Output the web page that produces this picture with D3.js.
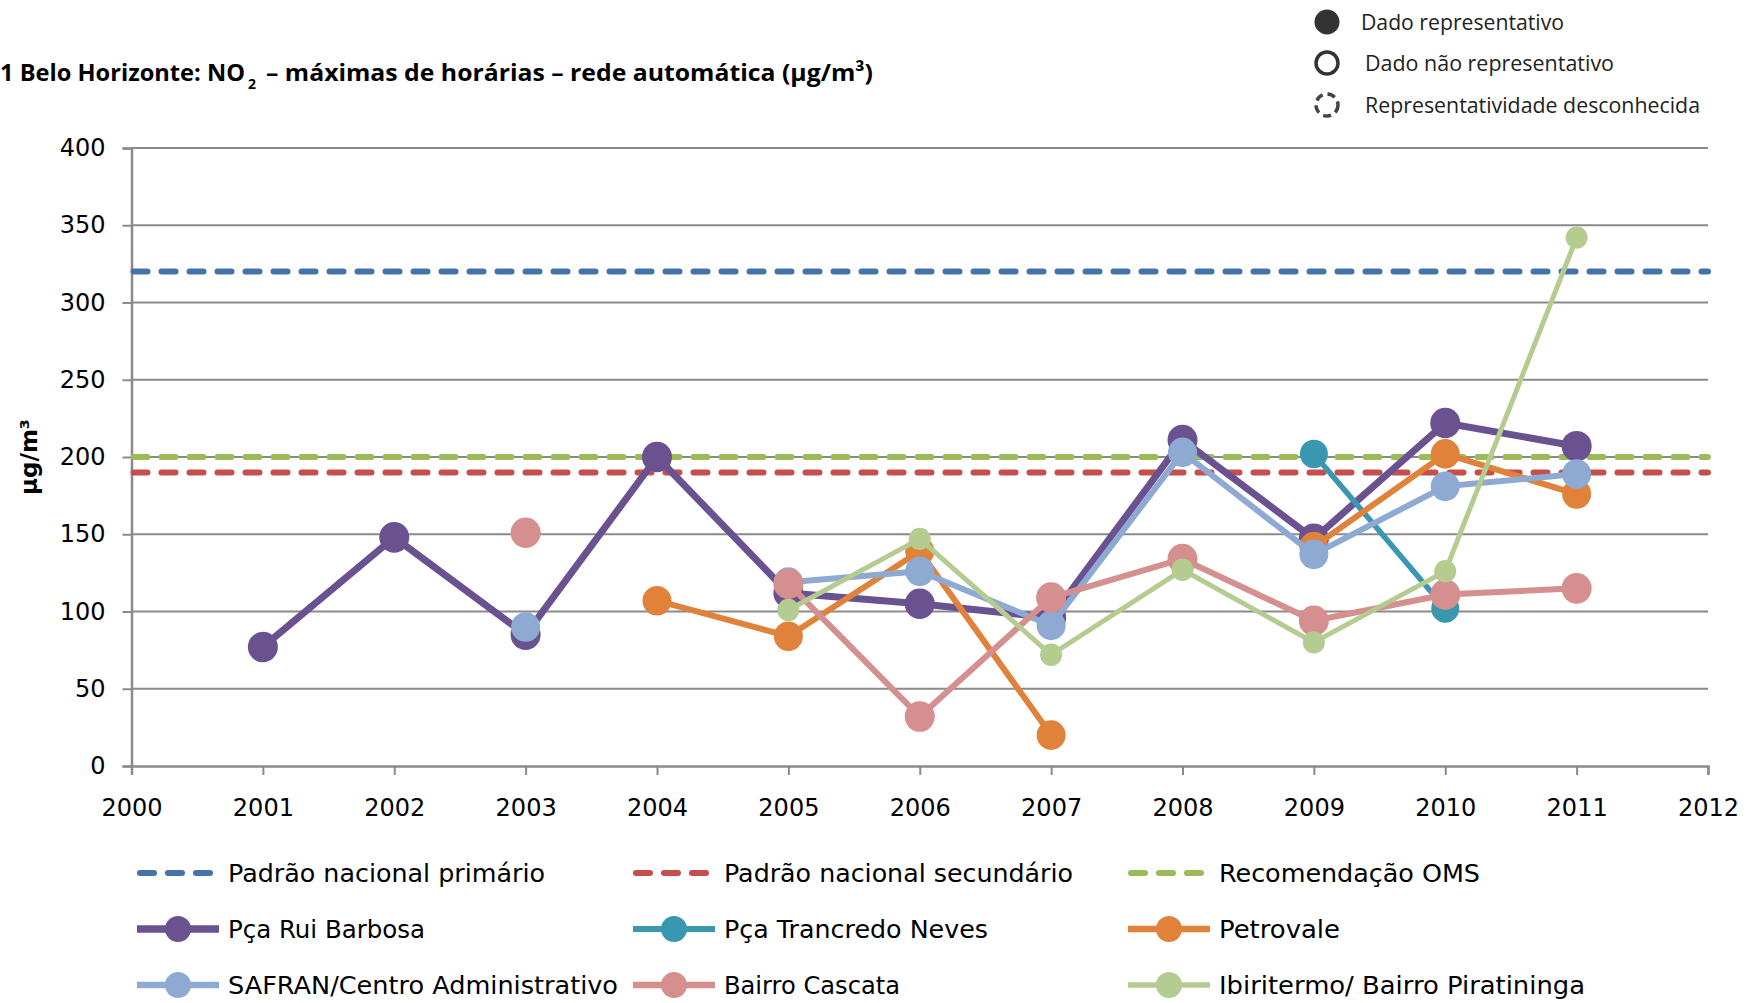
<!DOCTYPE html>
<html><head><meta charset="utf-8">
<script src="https://cdn.jsdelivr.net/npm/d3@7"></script>
<style>html,body{margin:0;padding:0;background:#fff;overflow:hidden}</style>
</head><body>
<svg id="c" width="1762" height="1003"></svg>
<script>
// ---- data ----
const years = [2001,2002,2003,2004,2005,2006,2007,2008,2009,2010,2011];
const ruiBarbosa  = [77,148,85,200,112,105,96,211,147,222,207];
const tancredo    = [null,null,null,null,null,null,null,null,202,102,null];
const petrovale   = [null,null,null,107,84,139,20,null,142,202,176];
const safran      = [null,null,90,null,119,126,91,203,137,181,189];
const cascata     = [null,null,151,null,118,32,109,134,94,111,115];
const ibiritermo  = [null,null,null,null,101,147,72,127,80,126,342];
const refNames  = ["Padrão nacional  primário","Padrão nacional  secundário","Recomendação OMS"];
const refValues = [320,190,200];
const seriesNames = ["Pça Rui Barbosa","Pça Trancredo Neves","Petrovale","SAFRAN/Centro Administrativo","Bairro Cascata","Ibiritermo/ Bairro Piratininga"];
const yTicks = [0,50,100,150,200,250,300,350,400];
const xTicks = [2000,2001,2002,2003,2004,2005,2006,2007,2008,2009,2010,2011,2012];
const statusLabels = ["Dado representativo","Dado não representativo","Representatividade desconhecida"];

// ---- styles ----
const refColors = ["#4472ab","#c4504e","#9bbb59"];
const seriesVals = [ruiBarbosa,tancredo,petrovale,safran,cascata,ibiritermo];
const seriesColors = ["#6a5291","#3a97b0","#e0823a","#8eaad3","#d48f8e","#b4cc90"];
const seriesWidth = [7,5.5,6,6,6,5];
const seriesR = [15,14,14.5,14.5,15,11];

const svg = d3.select("#c");
const x = d3.scaleLinear().domain([2000,2012]).range([131.5,1708]);
const y = d3.scaleLinear().domain([0,400]).range([766,148]);
const grid = "#8a8a8a";

// gridlines
svg.append("g").selectAll("line").data(yTicks.filter(d=>d>0)).join("line")
  .attr("x1",x(2000)).attr("x2",x(2012)).attr("y1",d=>y(d)).attr("y2",d=>y(d))
  .attr("stroke",grid).attr("stroke-width",2);

// axes
const yAx = svg.append("g").attr("transform",`translate(${x(2000)},0)`)
  .call(d3.axisLeft(y).tickValues(yTicks).tickSize(9).tickPadding(12));
const xAx = svg.append("g").attr("transform",`translate(0,${y(0)})`)
  .call(d3.axisBottom(x).tickValues(xTicks).tickFormat(d3.format("d")).tickSize(9).tickPadding(24));
[yAx,xAx].forEach(g=>{
  g.select(".domain").attr("stroke",grid).attr("stroke-width",2.5);
  g.selectAll(".tick line").attr("stroke",grid).attr("stroke-width",2);
  g.selectAll("text").attr("font-family","DejaVu Sans").attr("font-size",24).attr("fill","#000");
});
yAx.selectAll("text").attr("dx",-5);

// y title
svg.append("text").attr("transform",`translate(37,457) rotate(-90)`)
  .attr("text-anchor","middle").attr("font-family","DejaVu Sans").attr("font-weight","bold")
  .attr("font-size",23).text("µg/m³");

// reference lines
refValues.forEach((v,i)=>{
  svg.append("line").attr("x1",x(2000)+2).attr("x2",x(2012)).attr("y1",y(v)).attr("y2",y(v))
    .attr("stroke",refColors[i]).attr("stroke-width",6).attr("stroke-dasharray","14,14")
    .attr("stroke-linecap","round");
});

// series
const line = d3.line().defined(d=>d.v!=null).x(d=>x(d.yr)).y(d=>y(d.v));
seriesVals.forEach((vals,i)=>{
  const pts = years.map((yr,k)=>({yr,v:vals[k]}));
  const g = svg.append("g");
  g.append("path").datum(pts).attr("d",line).attr("fill","none")
    .attr("stroke",seriesColors[i]).attr("stroke-width",seriesWidth[i]).attr("stroke-linejoin","round");
  g.selectAll("ellipse").data(pts.filter(d=>d.v!=null)).join("ellipse")
    .attr("cx",d=>x(d.yr)).attr("cy",d=>y(d.v)).attr("rx",seriesR[i]).attr("ry",seriesR[i]*1.02)
    .attr("fill",seriesColors[i]);
});

// title
const tFont = "Open Sans";
svg.append("text").attr("x",0).attr("y",81).attr("font-family",tFont).attr("font-weight","bold")
  .attr("font-size",24).attr("textLength",245).attr("lengthAdjust","spacingAndGlyphs")
  .text("1 Belo Horizonte: NO");
svg.append("text").attr("x",248).attr("y",89).attr("font-family",tFont).attr("font-weight","bold")
  .attr("font-size",14).text("2");
svg.append("text").attr("x",266).attr("y",81).attr("font-family",tFont).attr("font-weight","bold")
  .attr("font-size",24).attr("textLength",607).attr("lengthAdjust","spacingAndGlyphs")
  .text("– máximas de horárias – rede automática  (µg/m³)");

// top-right status legend
const sy = [22,63,105];
svg.append("circle").attr("cx",1327).attr("cy",sy[0]).attr("r",12.5).attr("fill","#333");
svg.append("circle").attr("cx",1327).attr("cy",sy[1]).attr("r",11).attr("fill","none").attr("stroke","#333").attr("stroke-width",3.5);
svg.append("circle").attr("cx",1327).attr("cy",sy[2]).attr("r",11).attr("fill","none").attr("stroke","#444").attr("stroke-width",3.5).attr("stroke-dasharray","8,5");
const sLen = [203,249,335];
const sX = [1361,1365,1365];
statusLabels.forEach((t,i)=>{
  svg.append("text").attr("x",sX[i]).attr("y",sy[i]+8).attr("font-family","Open Sans")
    .attr("font-size",22).attr("fill","#222").attr("textLength",sLen[i]).attr("lengthAdjust","spacingAndGlyphs").text(t);
});

// bottom legend
const colX = [137,633,1128];
const rowY = [873,929,985];
const legLen = [[317,349,261],[197,264,121],[390,176,366]];
const legFont = {"font-family":"DejaVu Sans","font-size":24};
refNames.forEach((t,i)=>{
  const x0 = colX[i], yy = rowY[0];
  svg.append("line").attr("x1",x0+3).attr("x2",x0+76).attr("y1",yy).attr("y2",yy)
    .attr("stroke",refColors[i]).attr("stroke-width",6).attr("stroke-dasharray","14,14").attr("stroke-linecap","round");
  svg.append("text").attr("x",x0+91).attr("y",yy+9).attr("font-family",legFont["font-family"]).attr("font-size",legFont["font-size"])
    .attr("textLength",legLen[0][i]).attr("lengthAdjust","spacingAndGlyphs").text(t);
});
seriesNames.forEach((t,i)=>{
  const r = Math.floor(i/3)+1, c = i%3;
  const x0 = colX[c], yy = rowY[r];
  svg.append("line").attr("x1",x0).attr("x2",x0+82).attr("y1",yy).attr("y2",yy)
    .attr("stroke",seriesColors[i]).attr("stroke-width",seriesWidth[i]+0.5);
  svg.append("ellipse").attr("cx",x0+41).attr("cy",yy).attr("rx",13).attr("ry",13).attr("fill",seriesColors[i]);
  svg.append("text").attr("x",x0+91).attr("y",yy+9).attr("font-family",legFont["font-family"]).attr("font-size",legFont["font-size"])
    .attr("textLength",legLen[r][c]).attr("lengthAdjust","spacingAndGlyphs").text(t);
});
</script>
</body></html>
